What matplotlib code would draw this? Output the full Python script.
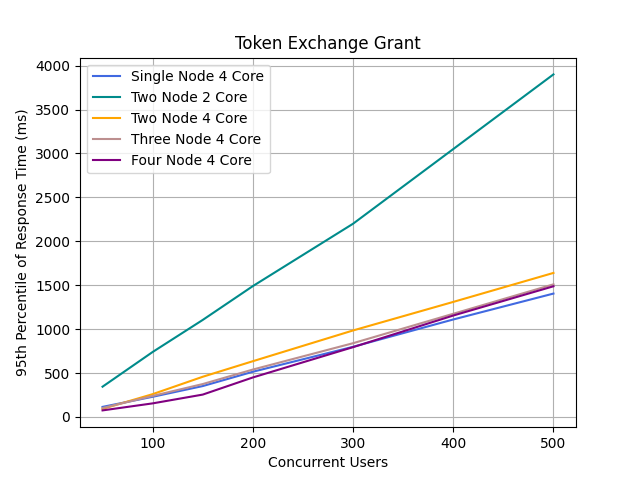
import matplotlib
matplotlib.use("Agg")
import matplotlib.pyplot as plt

users = [50, 100, 150, 200, 300, 400, 500]

single_4 = [115, 230, 352, 515, 799, 1110, 1405]
two_2 = [345, 740, 1105, 1490, 2200, 3050, 3900]
two_4 = [92, 260, 458, 635, 985, 1310, 1640]
three_4 = [102, 240, 375, 540, 840, 1175, 1510]
four_4 = [75, 155, 255, 450, 795, 1155, 1488]

plt.figure(figsize=(6.4, 4.8), dpi=100)
plt.plot(users, single_4, color='royalblue', label='Single Node 4 Core')
plt.plot(users, two_2, color='darkcyan', label='Two Node 2 Core')
plt.plot(users, two_4, color='orange', label='Two Node 4 Core')
plt.plot(users, three_4, color='rosybrown', label='Three Node 4 Core')
plt.plot(users, four_4, color='purple', label='Four Node 4 Core')

plt.title('Token Exchange Grant')
plt.xlabel('Concurrent Users')
plt.ylabel('95th Percentile of Response Time (ms)')
plt.grid(True)
plt.legend(loc='upper left')
plt.savefig('out.png')
